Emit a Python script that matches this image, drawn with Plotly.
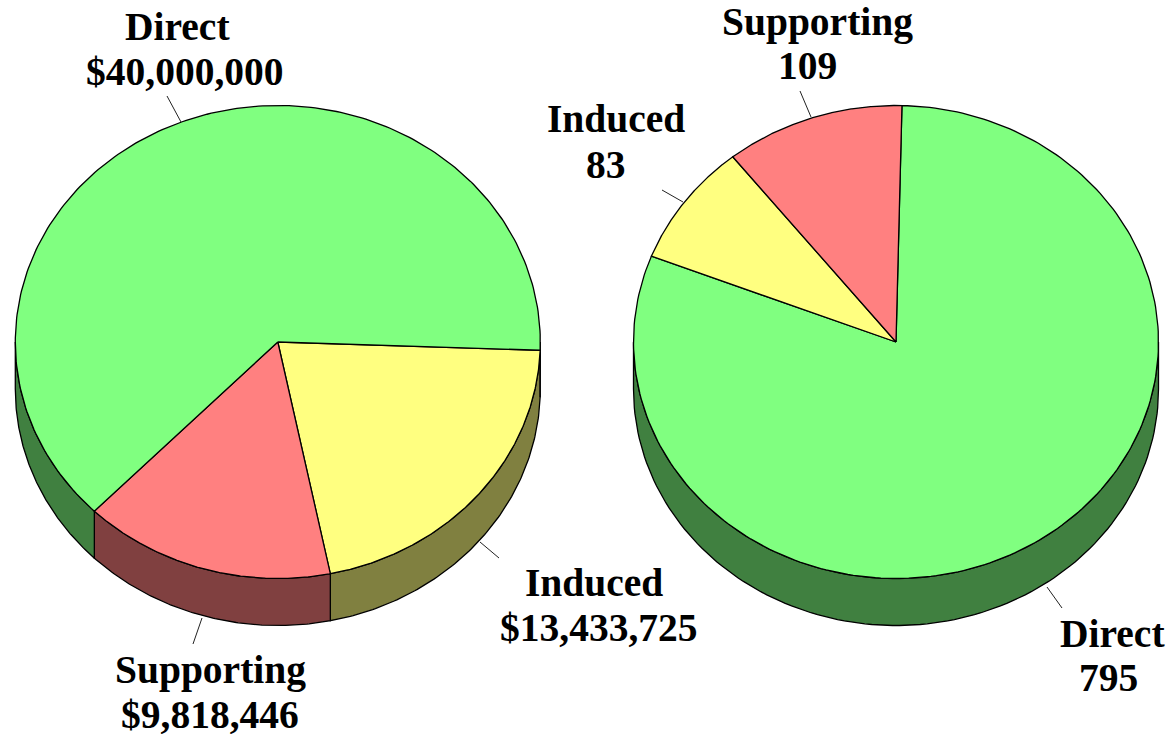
import numpy as np
import plotly.graph_objects as go

# Chart data
left_labels = ["Induced", "Supporting", "Direct"]
left_values = [13433725, 9818446, 40000000]
left_text = ["$13,433,725", "$9,818,446", "$40,000,000"]
right_labels = ["Direct", "Induced", "Supporting"]
right_values = [795, 83, 109]
right_text = ["795", "83", "109"]
slice_colors = {"Direct": "#80FF80", "Induced": "#FFFF80", "Supporting": "#FF8080"}
side_colors = {"Direct": "#408040", "Induced": "#808040", "Supporting": "#804040"}

RX, RY, DEPTH = 262.5, 236.5, 47
CY = 342


def add_pie(fig, cx, labels, values, start_deg):
    total = sum(values)
    angle = start_deg
    wedges = []
    for lab, v in zip(labels, values):
        sweep = 360 * v / total
        wedges.append((lab, angle, angle + sweep))
        angle += sweep
    # sides
    for lab, a0, a1 in wedges:
        for k in (-1, 0, 1):
            lo = max(a0, 360 * k)
            hi = min(a1, 360 * k + 180)
            if hi <= lo:
                continue
            t = np.radians(np.linspace(lo, hi, 120))
            x = cx + RX * np.cos(t)
            y = CY + RY * np.sin(t)
            fig.add_trace(go.Scatter(
                x=np.r_[x, x[::-1], x[0]], y=np.r_[y, y[::-1] + DEPTH, y[0]],
                mode="lines", fill="toself", fillcolor=side_colors[lab],
                line=dict(color="black", width=1.3), hoverinfo="skip"))
    # tops
    for lab, a0, a1 in wedges:
        t = np.radians(np.linspace(a0, a1, 240))
        x = np.r_[cx, cx + RX * np.cos(t), cx]
        y = np.r_[CY, CY + RY * np.sin(t), CY]
        fig.add_trace(go.Scatter(
            x=x, y=y, mode="lines", fill="toself", fillcolor=slice_colors[lab],
            line=dict(color="black", width=1.3), hoverinfo="text", text=lab))


fig = go.Figure()
add_pie(fig, 277.8, left_labels, left_values, 2)
add_pie(fig, 896, right_labels, right_values, -88.7)

# leader lines
leaders = [((167, 96), (181, 122)), ((480, 542), (499, 558)), ((202, 618), (193, 644)),
           ((800, 91), (811, 117)), ((662, 190), (683, 202)), ((1047, 587), (1062, 608))]
for (x0, y0), (x1, y1) in leaders:
    fig.add_trace(go.Scatter(x=[x0, x1], y=[y0, y1], mode="lines",
                             line=dict(color="#222222", width=1), hoverinfo="skip"))

FONT = dict(family="Liberation Serif", size=39.5, color="black")
text_pos = [
    (left_labels[2], 177, 27), (left_text[2], 184.5, 72),
    (left_labels[0], 594, 583), (left_text[0], 598.5, 628),
    (left_labels[1], 210, 670), (left_text[1], 209.5, 714),
    (right_labels[2], 817.5, 22), (right_text[2], 807, 66),
    (right_labels[1], 616, 119), (right_text[1], 606, 165),
    (right_labels[0], 1112, 634), (right_text[0], 1108, 678),
]
for s, x, y in text_pos:
    # The lowest line's box would overrun the page although its glyphs fit
    box_height = 39 if y > 700 else None
    fig.add_annotation(x=x, y=y, text=f"<b>{s}</b>", showarrow=False, height=box_height,
                       font=FONT, xanchor="center", yanchor="middle")

fig.update_layout(
    width=1172, height=734, margin=dict(l=0, r=0, t=0, b=0),
    paper_bgcolor="white", plot_bgcolor="white", showlegend=False,
    xaxis=dict(range=[0, 1172], visible=False, fixedrange=True),
    yaxis=dict(range=[734, 0], visible=False, fixedrange=True),
)
fig.write_html("out.html", config=dict(displayModeBar=False),
               post_script="document.body.style.margin='0';document.body.style.overflow='hidden';")
